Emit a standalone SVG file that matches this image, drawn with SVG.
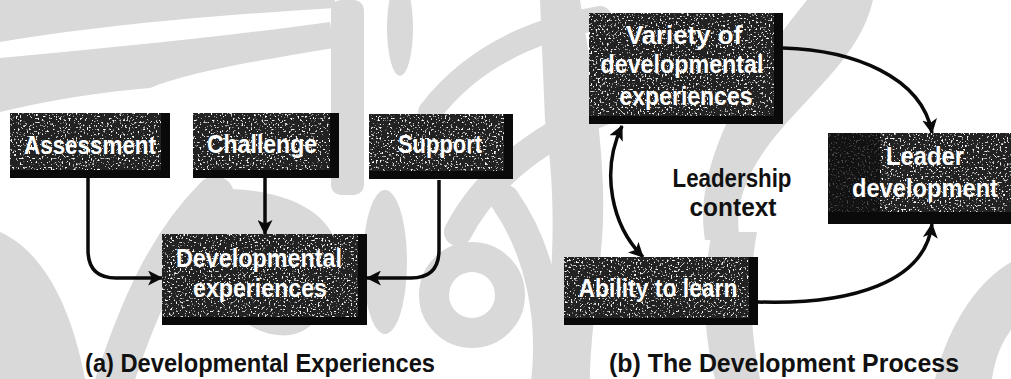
<svg xmlns="http://www.w3.org/2000/svg" width="1011" height="379" viewBox="0 0 1011 379">
  <defs>
    <style>
      .mark { fill: #d9d9d9; }
      .mark-line { fill: none; stroke: #d9d9d9; stroke-linecap: round; }
      .shade { fill: #0a0a0a; }
      .face { fill: #222222; filter: url(#grain); }
      .label { font-family: "Liberation Sans", Arial, sans-serif; font-weight: bold; fill: #ffffff; text-anchor: middle; }
      .caption { font-family: "Liberation Sans", Arial, sans-serif; font-weight: bold; fill: #111111; text-anchor: middle; }
      .link { fill: none; stroke: #0a0a0a; stroke-width: 3.5; }
    </style>
    <!-- speckled print texture for the box faces -->
    <filter id="grain" x="0" y="0" width="100%" height="100%">
      <feTurbulence type="fractalNoise" baseFrequency="0.55" numOctaves="1" seed="7" result="noise"/>
      <feColorMatrix in="noise" type="matrix" values="0 0 0 0 1  0 0 0 0 1  0 0 0 0 1  9 0 0 0 -5.4" result="speck"/>
      <feComposite in="speck" in2="SourceGraphic" operator="in" result="clip"/>
      <feMerge>
        <feMergeNode in="SourceGraphic"/>
        <feMergeNode in="clip"/>
      </feMerge>
    </filter>
    <marker id="head" viewBox="0 0 14 14" refX="13" refY="7" markerWidth="15" markerHeight="15" markerUnits="userSpaceOnUse" orient="auto-start-reverse">
      <path d="M0,0 L14,7 L0,14 L3.5,7 Z" fill="#0a0a0a"/>
    </marker>
  </defs>

  <rect width="1011" height="379" fill="#ffffff"/>

  <!-- faint background emblem -->
  <g id="emblem">
    <path class="mark" d="M0,0 H335 V8 C240,14 120,22 0,42 Z"/>
    <path class="mark" d="M0,58 C110,48 230,36 330,22 L334,48 C250,62 190,72 150,88 C100,92 50,100 0,112 Z"/>
    <rect class="mark" x="331" y="0" width="33" height="195" rx="10"/>
    <ellipse class="mark" cx="400" cy="28" rx="13" ry="48"/>
    <path class="mark-line" stroke-width="24" d="M430,112 C470,60 530,30 600,18"/>
    <path class="mark-line" stroke-width="28" d="M458,232 C490,170 560,120 640,100"/>
    <ellipse class="mark" cx="385" cy="262" rx="22" ry="72"/>
    <circle cx="472" cy="295" r="38" fill="none" stroke="#d9d9d9" stroke-width="30"/>
    <path class="mark-line" stroke-width="30" d="M505,200 C540,250 555,320 545,390"/>
    <path class="mark" d="M0,232 C40,250 70,300 85,379 H0 Z"/>
    <path class="mark-line" stroke-width="38" d="M110,395 C140,300 170,240 215,195"/>
    <path class="mark" d="M205,190 C260,185 320,200 335,240 C345,290 320,330 290,335 C250,340 210,300 205,250 Z"/>
    <path class="mark" d="M540,0 H580 C595,90 610,180 600,260 C595,310 590,350 590,379 H540 C550,300 560,220 545,120 Z"/>
    <path class="mark" d="M807,0 H873 C860,60 800,100 765,150 C740,185 735,215 740,240 L705,240 C695,180 725,100 807,0 Z"/>
    <path class="mark" d="M712,232 C700,290 705,340 715,379 H760 C750,330 748,280 757,232 Z"/>
    <path class="mark" d="M935,379 C950,320 980,280 1011,262 V330 C1000,345 995,360 992,379 Z"/>
  </g>

  <!-- connectors -->
  <g id="connectors">
    <path class="link" marker-end="url(#head)" d="M88,178 V250 Q88,278 116,278 H162"/>
    <path class="link" marker-end="url(#head)" d="M265,178 V234"/>
    <path class="link" marker-end="url(#head)" d="M439,180 V250 Q439,278 411,278 H367"/>
    <path class="link" marker-end="url(#head)" d="M783,48 C852,50 922,76 932,133"/>
    <path class="link" marker-end="url(#head)" d="M758,302 C852,305 925,282 932,224"/>
    <path class="link" marker-start="url(#head)" marker-end="url(#head)" d="M622,126 C600,172 612,226 643,257"/>
  </g>

  <!-- (a) developmental experiences -->
  <g id="assessment">
    <rect class="shade" x="10" y="113" width="160" height="65"/>
    <rect class="face" x="10" y="113" width="151" height="57"/>
    <text class="label" x="90" y="154" font-size="26" textLength="132" lengthAdjust="spacingAndGlyphs">Assessment</text>
  </g>
  <g id="challenge">
    <rect class="shade" x="193" y="113" width="146" height="65"/>
    <rect class="face" x="193" y="113" width="137" height="57"/>
    <text class="label" x="262" y="153" font-size="26" textLength="110" lengthAdjust="spacingAndGlyphs">Challenge</text>
  </g>
  <g id="support">
    <rect class="shade" x="369" y="114" width="144" height="65"/>
    <rect class="face" x="369" y="114" width="135" height="57"/>
    <text class="label" x="440" y="153" font-size="26" textLength="84" lengthAdjust="spacingAndGlyphs">Support</text>
  </g>
  <g id="developmental-experiences">
    <rect class="shade" x="162" y="234" width="205" height="91"/>
    <rect class="face" x="162" y="234" width="196" height="83"/>
    <text class="label" x="259" y="267" font-size="26" textLength="166" lengthAdjust="spacingAndGlyphs">Developmental</text>
    <text class="label" x="260" y="297" font-size="26" textLength="134" lengthAdjust="spacingAndGlyphs">experiences</text>
  </g>
  <text class="caption" x="260" y="372" font-size="25" textLength="350" lengthAdjust="spacingAndGlyphs">(a) Developmental Experiences</text>

  <!-- (b) the development process -->
  <g id="variety">
    <rect class="shade" x="589" y="13" width="194" height="111"/>
    <rect class="face" x="589" y="13" width="185" height="103"/>
    <text class="label" x="684" y="44" font-size="26" textLength="116" lengthAdjust="spacingAndGlyphs">Variety of</text>
    <text class="label" x="682" y="73" font-size="26" textLength="163" lengthAdjust="spacingAndGlyphs">developmental</text>
    <text class="label" x="686" y="105" font-size="26" textLength="133" lengthAdjust="spacingAndGlyphs">experiences</text>
  </g>
  <g id="leader-development">
    <rect class="shade" x="828" y="133" width="183" height="91"/>
    <rect class="face" x="828" y="133" width="183" height="79"/>
    <rect x="828" y="133" width="52" height="79" fill="#0d0d0d" opacity="0.75"/>
    <text class="label" x="925" y="165" font-size="26" textLength="78" lengthAdjust="spacingAndGlyphs">Leader</text>
    <text class="label" x="925" y="197" font-size="26" textLength="146" lengthAdjust="spacingAndGlyphs">development</text>
  </g>
  <g id="ability">
    <rect class="shade" x="564" y="257" width="194" height="68"/>
    <rect class="face" x="564" y="257" width="185" height="61"/>
    <text class="label" x="658" y="297" font-size="26" textLength="159" lengthAdjust="spacingAndGlyphs">Ability to learn</text>
  </g>
  <g id="leadership-context">
    <text class="caption" x="732" y="187" font-size="25" textLength="119" lengthAdjust="spacingAndGlyphs">Leadership</text>
    <text class="caption" x="733" y="216" font-size="25" textLength="87" lengthAdjust="spacingAndGlyphs">context</text>
  </g>
  <text class="caption" x="784" y="372" font-size="25" textLength="350" lengthAdjust="spacingAndGlyphs">(b) The Development Process</text>
</svg>
